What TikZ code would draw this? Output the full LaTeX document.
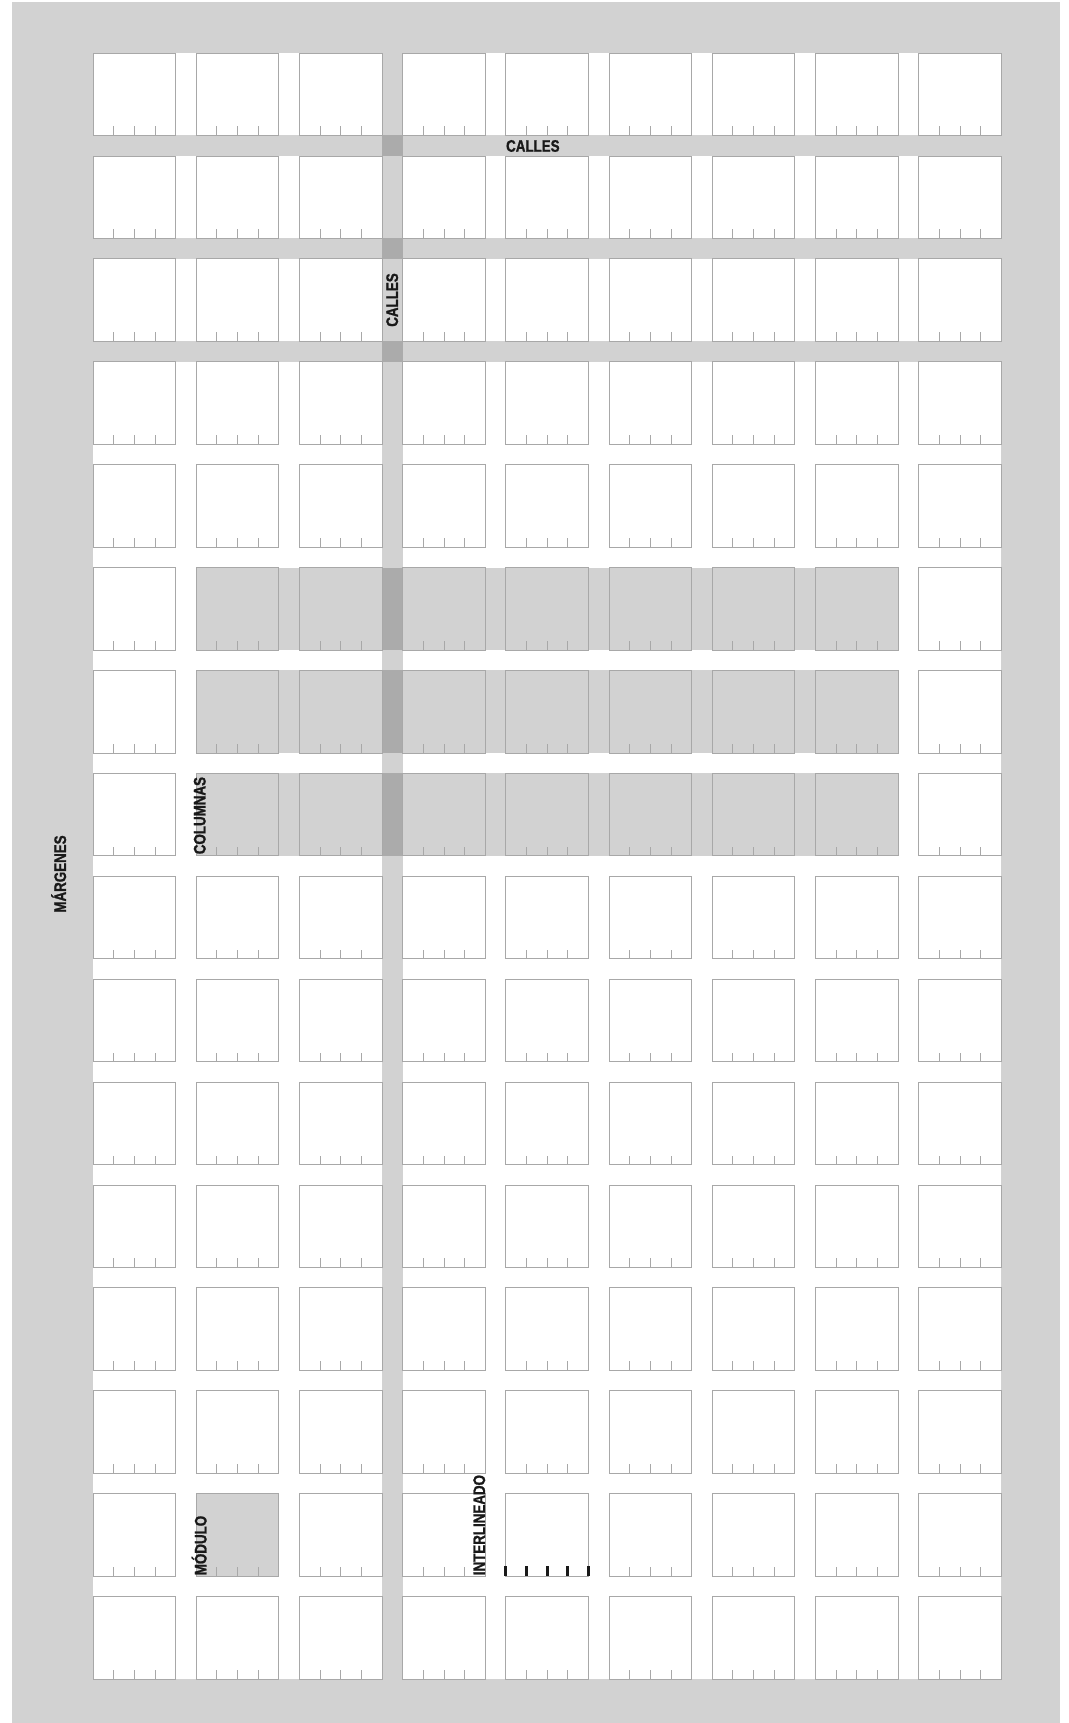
\documentclass[tikz,border=0pt]{standalone}
\usepackage{fontspec}
\setmainfont{Liberation Sans}[FakeStretch=0.8, BoldFeatures={FakeBold=1.2}]
\usepackage{tikz}

\definecolor{pagina}{HTML}{D2D2D2}
\definecolor{cruce}{HTML}{ABABAB}
\definecolor{linea}{HTML}{A8A8A8}

\begin{document}
\begin{tikzpicture}[
    x=0.02cm, y=-0.02cm,
    modulo/.style={draw=linea, line width=0.45pt},
    marca/.style={draw=linea, line width=0.4pt},
    interlinea/.style={draw=black!90, line width=1.7pt},
    etiqueta/.style={inner sep=0pt, text=black!90, font=\fontsize{9.5}{11}\selectfont\bfseries}
]
    \fill[white] (0,0) rectangle (1068,1723);
    \useasboundingbox (0,0) rectangle (1068,1723);
    \fill[pagina] (12,2) rectangle (1060,1723);
    \fill[white] (93,53) rectangle (1001.1,1679);

    % calles
    \foreach \f in {0,1,2}
        \fill[pagina] (93,53+\f*102.9+82.5) rectangle (1001.1,53+\f*102.9+102.9);
    \fill[pagina] (381.9,53) rectangle (402.6,1679);
    % columnas
    \foreach \f in {5,6,7}
        \fill[pagina] (196.2,53+\f*102.9) rectangle (897.9,53+\f*102.9+82.5);
    \foreach \f in {0,1,2}
        \fill[cruce] (381.9,53+\f*102.9+82.5) rectangle (402.6,53+\f*102.9+102.9);
    \foreach \f in {5,6,7}
        \fill[cruce] (381.9,53+\f*102.9) rectangle (402.6,53+\f*102.9+82.5);
    % modulo
    \fill[pagina] (196.2,1493.6) rectangle ++(82.5,82.5);

    \foreach \c in {0,...,8}
        \foreach \f in {0,...,15} {
            \pgfmathsetmacro\xa{93+\c*103.2}
            \pgfmathsetmacro\ya{53+\f*102.9}
            \draw[modulo] (\xa,\ya) rectangle ++(82.5,82.5);
            \foreach \t in {1,2,3}
                \draw[marca] (\xa+\t*20.625,\ya+82.5) -- ++(0,-9);
        }

    \foreach \t in {0,...,4}
        \draw[interlinea] (505.8+\t*20.625,1576.1) -- ++(0,-10);

    \node[etiqueta, anchor=west] (callesh) at (505.8,146) {CALLES};
    \node[etiqueta, rotate=90] (callesv) at (392.2,300) {CALLES};
    \node[etiqueta, rotate=90, anchor=south west] (columnas) at (206,854.5) {COLUMNAS};
    \node[etiqueta, rotate=90, anchor=south west] (modulo) at (207,1575.5) {MÓDULO};
    \node[etiqueta, rotate=90, anchor=south west] (interlineado) at (485.5,1575.5) {INTERLINEADO};
    \node[etiqueta, rotate=90, anchor=south] (margenes) at (66.5,874) {MÁRGENES};
\end{tikzpicture}
\end{document}
